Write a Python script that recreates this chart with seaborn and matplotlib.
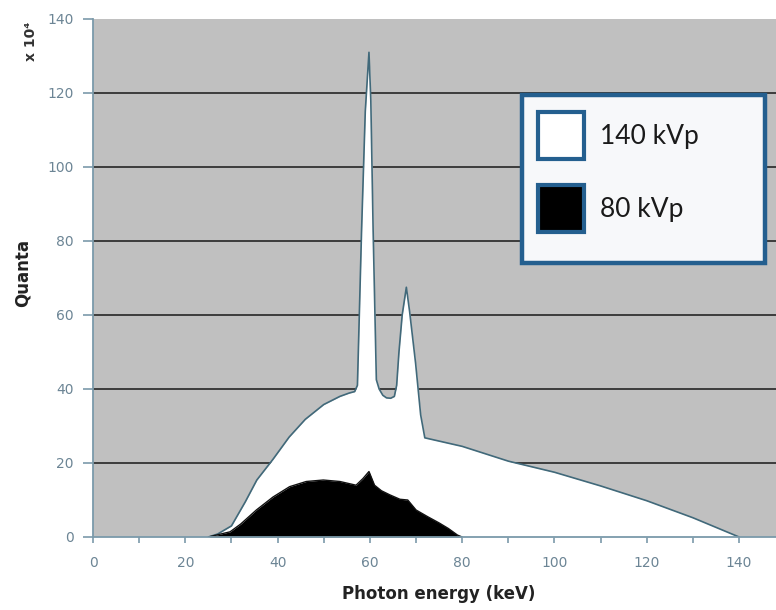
import matplotlib
matplotlib.use("Agg")
import matplotlib.pyplot as plt
import numpy as np
import pandas as pd
import seaborn as sns
from matplotlib.patches import Patch, Rectangle
from matplotlib.ticker import MultipleLocator

# ---- data ----
energy_140 = [25, 27, 30, 33, 35.5, 39, 42.5, 46, 50, 53.5, 55.5, 56.7, 57.3, 58.2, 59.0, 59.8,
              60.2, 60.7, 61.4, 62.0, 62.8, 63.6, 64.5, 65.3, 65.8, 66.3, 67.0, 67.9, 68.6, 69.9,
              71.0, 71.9, 80, 90, 100, 110, 120, 130, 140]
quanta_140 = [0, 0.8, 3, 9.5, 15.4, 21, 27, 31.8, 35.8, 38, 38.9, 39.3, 41, 83, 115, 131,
              118, 83, 42.5, 40, 38.3, 37.6, 37.5, 38, 41, 50, 60, 67.5, 61, 47,
              33, 26.8, 24.5, 20.5, 17.5, 13.8, 9.8, 5.2, 0]

energy_80 = [25, 27, 29.7, 32, 35.4, 39, 42.6, 46.2, 49.9, 53.5, 57, 58.5, 59.8, 61,
             62.5, 64.3, 66.5, 68.2, 70, 72.5, 75, 77, 79, 80]
quanta_80 = [0, 0.6, 1.4, 3.5, 7.3, 10.8, 13.6, 15, 15.4, 15, 14, 15.8, 17.7, 14,
             12.5, 11.4, 10.2, 10, 7.3, 5.5, 3.8, 2.3, 0.5, 0]

x_ticks = [0, 20, 40, 60, 80, 100, 120, 140]
y_ticks = [0, 20, 40, 60, 80, 100, 120, 140]
series_labels = ["140 kVp", "80 kVp"]
x_label = "Photon energy (keV)"
y_label = "Quanta"
y_scale_note = "x 10\u2074"

# ---- styling ----
sns.set_theme(style="white")
plt.rcParams['font.family'] = ['DejaVu Sans']

W, H = 776, 610
fig = plt.figure(figsize=(W / 100, H / 100), dpi=100)
fig.patch.set_facecolor("white")

ax_left, ax_bottom, ax_top = 93, 537, 19
aw, ah = W - ax_left, ax_bottom - ax_top
ax = fig.add_axes([ax_left / W, (H - ax_bottom) / H, aw / W, ah / H])
ax.set_facecolor("#c0c0c0")
ax.set_xlim(0, 148)
ax.set_ylim(0, 140)

ax.set_axisbelow(True)
ax.xaxis.grid(False)

df140 = pd.DataFrame({"energy": energy_140, "quanta": quanta_140})
df80 = pd.DataFrame({"energy": energy_80, "quanta": quanta_80})

ax.fill_between(df140["energy"], df140["quanta"], 0, color="white", zorder=2, linewidth=0)
sns.lineplot(data=df140, x="energy", y="quanta", ax=ax, color="#41697a",
             linewidth=1.2, sort=False, estimator=None, zorder=3)
ax.fill_between(df80["energy"], df80["quanta"], 0, color="black", zorder=4, linewidth=0)
sns.lineplot(data=df80, x="energy", y="quanta", ax=ax, color="#111111",
             linewidth=1.0, sort=False, estimator=None, zorder=5)

# spines & ticks
for s in ["top", "right"]:
    ax.spines[s].set_visible(False)
for s in ["left", "bottom"]:
    ax.spines[s].set_color("#7b9aaa")
    ax.spines[s].set_linewidth(1.3)
    ax.spines[s].set_zorder(6)

tick_col = "#6c8595"
ax.set_xticks(x_ticks)
ax.set_yticks(y_ticks)
ax.yaxis.grid(True, color="#3c3c3c", linewidth=1.4)
gl = ax.yaxis.get_gridlines()
gl[0].set_visible(False)
gl[-1].set_visible(False)
ax.xaxis.set_minor_locator(MultipleLocator(10))
ax.tick_params(axis="x", which="both", direction="out", length=4, width=1.2,
               color="#7b9aaa", labelsize=10, labelcolor=tick_col, pad=10, bottom=True)
ax.tick_params(axis="y", which="major", direction="out", length=7, width=1.2,
               color="#7b9aaa", labelsize=10, labelcolor=tick_col, pad=7, left=True)

ax.set_xlabel(x_label, fontsize=12, fontweight="bold", color="#222222")
ax.set_ylabel(y_label, fontsize=12, fontweight="bold", color="#222222")
ax.yaxis.set_label_coords((32 - ax_left) / aw, (ax_bottom - 273) / ah)
ax.xaxis.set_label_coords(0.5 + (439 - (ax_left + aw / 2)) / aw, (ax_bottom - 585) / ah)

fig.text(31 / W, 1 - 41 / H, y_scale_note, rotation=90, fontsize=10, fontweight="bold",
         color="#333333", ha="center", va="center")

# legend frame
frame_col = "#245f8f"
rect = Rectangle((522 / W, 1 - 263 / H), (765 - 522) / W, (263 - 95) / H,
                 transform=fig.transFigure, facecolor="#f7f8fa", edgecolor=frame_col,
                 linewidth=3.2, zorder=10)
fig.patches.append(rect)

handles = [Patch(facecolor="white", edgecolor=frame_col, linewidth=3.0, label=series_labels[0]),
           Patch(facecolor="black", edgecolor=frame_col, linewidth=3.0, label=series_labels[1])]
leg = fig.legend(handles=handles, loc="upper left", bbox_to_anchor=(538 / W, 1 - 112 / H),
                 frameon=False, prop={"family": ["Lato", "DejaVu Sans"], "size": 19},
                 handlelength=1.75, handleheight=2.35, handletextpad=0.6, labelspacing=1.0,
                 borderpad=0, borderaxespad=0)
leg.set_zorder(11)
for t in leg.get_texts():
    t.set_color("#1a1a1a")

fig.savefig("out.png", dpi=100)
